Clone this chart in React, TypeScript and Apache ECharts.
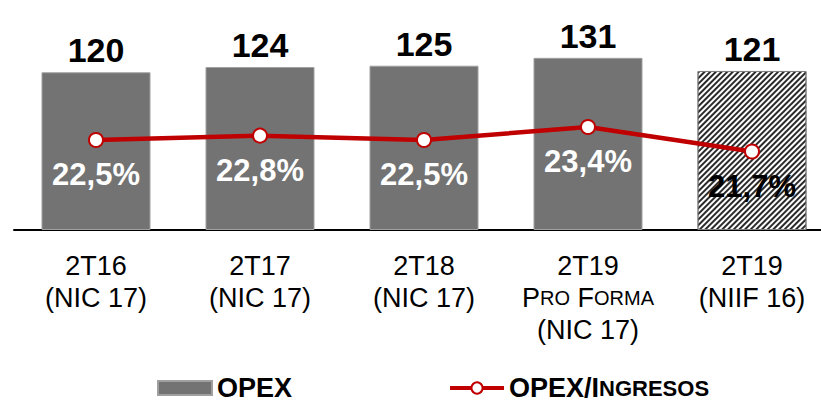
import React, { useEffect, useRef } from "react";
import * as echarts from "echarts";

const categories = ["2T16\n(NIC 17)", "2T17\n(NIC 17)", "2T18\n(NIC 17)", "2T19\nPro Forma\n(NIC 17)", "2T19\n(NIIF 16)"];
const opexValues = [120, 124, 125, 131, 121];
const opexRatio = [22.5, 22.8, 22.5, 23.4, 21.7];
const hatchedCategory = "2T19\n(NIIF 16)";
const seriesNames = ["OPEX", "OPEX/Ingresos"];

const FONT = "'Liberation Sans', Arial, sans-serif";
const RED = "#C00000";
const GREY = "#737373";

function smallCaps(line: string): string {
  return line
    .split(" ")
    .map((w) => `{b|${w[0]}}{s|${w.slice(1).toUpperCase()}}`)
    .join("{b| }");
}

export default function App() {
  const ref = useRef<HTMLDivElement>(null);
  useEffect(() => {
    if (!ref.current) return;
    const chart = echarts.init(ref.current, null, { renderer: "svg" });
    const barData = opexValues.map((v, i) =>
      categories[i] === hatchedCategory
        ? {
            value: v,
            itemStyle: {
              color: "#ffffff",
              borderColor: "#808080",
              borderWidth: 1,
              decal: {
                symbol: "rect",
                symbolSize: 1,
                dashArrayX: [1, 0],
                dashArrayY: [1.2, 1.8],
                rotation: -Math.PI / 4,
                color: "#2a2a2a",
              },
            },
          }
        : v
    );
    const lineData = opexRatio.map((v, i) =>
      categories[i] === hatchedCategory ? { value: v, label: { color: "#000000" } } : v
    );
    chart.setOption({
      animation: false,
      textStyle: { fontFamily: FONT },
      grid: { left: 14, width: 820, top: 0, height: 230 },
      legend: {
        left: 157,
        top: 374,
        padding: 0,
        itemWidth: 54,
        itemHeight: 14,
        itemGap: 156,
        lineStyle: { width: 4 },
        data: [
          { name: seriesNames[0], icon: "rect" },
          { name: seriesNames[1] },
        ],
        formatter: (name: string) =>
          name === seriesNames[1] ? "{b|OPEX/I}{s|NGRESOS}" : "{b|OPEX}",
        textStyle: {
          fontFamily: FONT,
          fontSize: 27,
          fontWeight: "bold",
          lineHeight: 28,
          rich: {
            b: { fontSize: 27, fontWeight: "bold", color: "#000", fontFamily: FONT, lineHeight: 28 },
            s: { fontSize: 22, fontWeight: "bold", color: "#000", fontFamily: FONT, lineHeight: 28 },
          },
        },
      },
      xAxis: {
        type: "category",
        data: categories,
        axisTick: { show: false },
        axisLine: { lineStyle: { color: "#000", width: 2 } },
        axisLabel: {
          margin: 20,
          fontSize: 27,
          color: "#000",
          fontFamily: FONT,
          lineHeight: 32,
          interval: 0,
          formatter: (val: string) =>
            val
              .split("\n")
              .map((line) => (/[a-z]/.test(line) ? smallCaps(line) : line))
              .join("\n"),
          rich: {
            b: { fontSize: 27, color: "#000", fontFamily: FONT, lineHeight: 32 },
            s: { fontSize: 20, color: "#000", fontFamily: FONT, lineHeight: 32 },
          },
        },
      },
      yAxis: [
        { type: "value", min: 0, max: 175, show: false },
        { type: "value", min: 16.25, max: 32.22, show: false },
      ],
      series: [
        {
          name: seriesNames[0],
          type: "bar",
          data: barData,
          barWidth: 109,
          itemStyle: { color: GREY, borderColor: "#a0a0a0", borderWidth: 1 },
          label: {
            show: true,
            position: "top",
            distance: 5,
            fontSize: 34,
            fontWeight: "bold",
            color: "#000",
            fontFamily: FONT,
          },
          z: 2,
        },
        {
          name: seriesNames[1],
          type: "line",
          yAxisIndex: 1,
          data: lineData,
          symbol: "circle",
          symbolSize: 14,
          itemStyle: { color: "#ffffff", borderColor: RED, borderWidth: 2 },
          lineStyle: { color: RED, width: 4.5 },
          label: {
            show: true,
            position: "bottom",
            distance: 11,
            fontSize: 31,
            fontWeight: "bold",
            color: "#ffffff",
            fontFamily: FONT,
            formatter: (p: any) => `${Number(p.value).toFixed(1).replace(".", ",")}%`,
          },
          z: 5,
        },
      ],
    });
    return () => chart.dispose();
  }, []);
  return (
    <div
      ref={ref}
      style={{ position: "fixed", left: 0, top: 0, width: 840, height: 402, background: "#fff" }}
    />
  );
}
